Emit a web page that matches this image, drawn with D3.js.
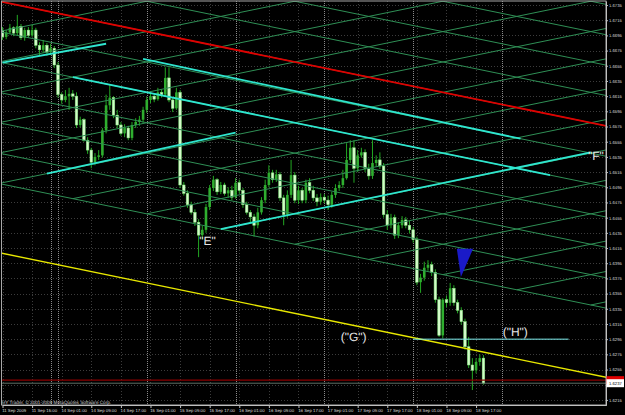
<!DOCTYPE html>
<html>
<head>
<meta charset="utf-8">
<script src="https://cdn.jsdelivr.net/npm/d3@7/dist/d3.min.js"></script>
<style>
  html, body { margin: 0; padding: 0; background: #000; overflow: hidden; }
  svg { display: block; font-family: "Liberation Sans", Arial, sans-serif; text-rendering: geometricPrecision; }
</style>
</head>
<body>
<script>
// GBPUSD-like H1 chart, bars indexed from the first one on screen
const timeLabels = [
  "11 Sep 2009", "11 Sep 15:00", "14 Sep 01:00", "14 Sep 09:00", "14 Sep 17:00",
  "15 Sep 01:00", "15 Sep 09:00", "15 Sep 17:00", "16 Sep 01:00", "16 Sep 09:00",
  "16 Sep 17:00", "17 Sep 01:00", "17 Sep 09:00", "17 Sep 17:00", "18 Sep 01:00",
  "18 Sep 09:00", "18 Sep 17:00"
];
const barsPerLabel = 8;
const separatorBars = [13, 15, 39, 63, 87, 111, 135];

const priceTicks = [
  1.6215, 1.6235, 1.6255, 1.6275, 1.6295, 1.6315, 1.6335, 1.6355, 1.6375,
  1.6395, 1.6415, 1.6435, 1.6455, 1.6475, 1.6495, 1.6515, 1.6535, 1.6555,
  1.6575, 1.6595, 1.6615, 1.6635, 1.6655, 1.6675, 1.6695, 1.6715, 1.6735
];

const openP = [
  1.6702, 1.6693, 1.6699, 1.6705, 1.6698, 1.6707, 1.6692, 1.6702, 1.6695, 1.6702,
  1.6682, 1.6676, 1.6682, 1.6673, 1.6678, 1.6656, 1.6617, 1.6610, 1.6615, 1.6618,
  1.6615, 1.6577, 1.6584, 1.6557, 1.6544, 1.6528, 1.6535, 1.6537, 1.6570, 1.6603,
  1.6613, 1.6590, 1.6577, 1.6566, 1.6573, 1.6560, 1.6577, 1.6581, 1.6584, 1.6597,
  1.6610, 1.6615, 1.6611, 1.6620, 1.6617, 1.6639, 1.6610, 1.6599, 1.6620, 1.6498,
  1.6487, 1.6472, 1.6462, 1.6449, 1.6432, 1.6439, 1.6469, 1.6494, 1.6505, 1.6489,
  1.6498, 1.6487, 1.6491, 1.6482, 1.6501, 1.6491, 1.6472, 1.6462, 1.6456, 1.6445,
  1.6462, 1.6478, 1.6498, 1.6514, 1.6505, 1.6512, 1.6481, 1.6459, 1.6485, 1.6511,
  1.6478, 1.6491, 1.6478, 1.6501, 1.6491, 1.6481, 1.6476, 1.6482, 1.6478, 1.6472,
  1.6485, 1.6494, 1.6498, 1.6507, 1.6531, 1.6547, 1.6520, 1.6537, 1.6541, 1.6520,
  1.6510, 1.6527, 1.6531, 1.6523, 1.6459, 1.6445, 1.6455, 1.6432, 1.6445, 1.6452,
  1.6445, 1.6439, 1.6426, 1.6370, 1.6376, 1.6389, 1.6393, 1.6383, 1.6347, 1.6300,
  1.6347, 1.6343, 1.6362, 1.6343, 1.6333, 1.6318, 1.6285, 1.6261, 1.6254, 1.6265,
  1.6270
];
const highP = [
  1.6706, 1.6702, 1.6710, 1.6707, 1.6722, 1.6710, 1.6705, 1.6706, 1.6709, 1.6705,
  1.6686, 1.6689, 1.6685, 1.6684, 1.6681, 1.6660, 1.6620, 1.6623, 1.6626, 1.6623,
  1.6620, 1.6588, 1.6586, 1.6561, 1.6547, 1.6540, 1.6544, 1.6573, 1.6617, 1.6630,
  1.6615, 1.6597, 1.6581, 1.6578, 1.6576, 1.6581, 1.6586, 1.6589, 1.6601, 1.6614,
  1.6620, 1.6619, 1.6626, 1.6624, 1.6653, 1.6653, 1.6614, 1.6626, 1.6623, 1.6502,
  1.6491, 1.6476, 1.6466, 1.6453, 1.6444, 1.6473, 1.6498, 1.6510, 1.6507, 1.6502,
  1.6501, 1.6495, 1.6497, 1.6507, 1.6505, 1.6494, 1.6476, 1.6465, 1.6460, 1.6468,
  1.6482, 1.6505, 1.6524, 1.6518, 1.6518, 1.6515, 1.6485, 1.6491, 1.6531, 1.6515,
  1.6497, 1.6494, 1.6505, 1.6507, 1.6497, 1.6486, 1.6487, 1.6486, 1.6484, 1.6489,
  1.6499, 1.6503, 1.6518, 1.6553, 1.6557, 1.6557, 1.6544, 1.6547, 1.6545, 1.6526,
  1.6557, 1.6537, 1.6541, 1.6527, 1.6465, 1.6460, 1.6459, 1.6449, 1.6457, 1.6456,
  1.6451, 1.6443, 1.6430, 1.6381, 1.6397, 1.6399, 1.6397, 1.6387, 1.6351, 1.6349,
  1.6352, 1.6369, 1.6366, 1.6347, 1.6337, 1.6322, 1.6298, 1.6270, 1.6270, 1.6275,
  1.6274
];
const lowP = [
  1.6689, 1.6690, 1.6697, 1.6694, 1.6695, 1.6689, 1.6688, 1.6692, 1.6693, 1.6678,
  1.6669, 1.6672, 1.6668, 1.6669, 1.6652, 1.6613, 1.6605, 1.6607, 1.6597, 1.6610,
  1.6573, 1.6574, 1.6555, 1.6539, 1.6520, 1.6524, 1.6531, 1.6534, 1.6566, 1.6597,
  1.6586, 1.6573, 1.6563, 1.6561, 1.6557, 1.6557, 1.6573, 1.6576, 1.6580, 1.6593,
  1.6606, 1.6607, 1.6609, 1.6613, 1.6614, 1.6607, 1.6594, 1.6597, 1.6494, 1.6484,
  1.6468, 1.6459, 1.6444, 1.6403, 1.6426, 1.6435, 1.6465, 1.6490, 1.6485, 1.6486,
  1.6484, 1.6481, 1.6478, 1.6480, 1.6487, 1.6468, 1.6459, 1.6449, 1.6430, 1.6441,
  1.6459, 1.6474, 1.6495, 1.6501, 1.6502, 1.6477, 1.6445, 1.6455, 1.6481, 1.6474,
  1.6473, 1.6474, 1.6474, 1.6487, 1.6477, 1.6470, 1.6472, 1.6474, 1.6465, 1.6468,
  1.6481, 1.6490, 1.6494, 1.6505, 1.6527, 1.6501, 1.6515, 1.6534, 1.6515, 1.6505,
  1.6506, 1.6522, 1.6519, 1.6455, 1.6439, 1.6441, 1.6427, 1.6428, 1.6441, 1.6441,
  1.6434, 1.6422, 1.6366, 1.6356, 1.6372, 1.6385, 1.6378, 1.6343, 1.6298, 1.6296,
  1.6337, 1.6339, 1.6339, 1.6329, 1.6314, 1.6281, 1.6257, 1.6228, 1.6250, 1.6260,
  1.6235
];
const closeP = [
  1.6693, 1.6699, 1.6705, 1.6698, 1.6707, 1.6692, 1.6702, 1.6695, 1.6702, 1.6682,
  1.6676, 1.6682, 1.6673, 1.6678, 1.6656, 1.6617, 1.6610, 1.6615, 1.6618, 1.6615,
  1.6577, 1.6584, 1.6557, 1.6544, 1.6528, 1.6535, 1.6537, 1.6570, 1.6603, 1.6613,
  1.6590, 1.6577, 1.6566, 1.6573, 1.6560, 1.6577, 1.6581, 1.6584, 1.6597, 1.6610,
  1.6615, 1.6611, 1.6620, 1.6617, 1.6639, 1.6610, 1.6599, 1.6620, 1.6498, 1.6487,
  1.6472, 1.6462, 1.6449, 1.6432, 1.6439, 1.6469, 1.6494, 1.6505, 1.6489, 1.6498,
  1.6487, 1.6491, 1.6482, 1.6501, 1.6491, 1.6472, 1.6462, 1.6456, 1.6445, 1.6462,
  1.6478, 1.6498, 1.6514, 1.6505, 1.6512, 1.6481, 1.6459, 1.6485, 1.6511, 1.6478,
  1.6491, 1.6478, 1.6501, 1.6491, 1.6481, 1.6476, 1.6482, 1.6478, 1.6472, 1.6485,
  1.6494, 1.6498, 1.6507, 1.6531, 1.6547, 1.6520, 1.6537, 1.6541, 1.6520, 1.6510,
  1.6527, 1.6531, 1.6523, 1.6459, 1.6445, 1.6455, 1.6432, 1.6445, 1.6452, 1.6445,
  1.6439, 1.6426, 1.6370, 1.6376, 1.6389, 1.6393, 1.6383, 1.6347, 1.6300, 1.6347,
  1.6343, 1.6362, 1.6343, 1.6333, 1.6318, 1.6285, 1.6261, 1.6254, 1.6265, 1.6270,
  1.6237
];

// gann grid: 1 pip per bar, 40 pips between rows
const gannDescAt0 = 1.6739;
const gannAscAt0 = 1.6661;
const gannStep = 0.004;
const gannPerBar = 0.0001;
const gannDescRows = d3.range(-4, 7);
const gannAscRows = d3.range(-1, 13);

// hand drawn objects, [bar, price]
const redLine = [[-1, 1.6740], [165, 1.6574]];
const yellowLine = [[-1, 1.6409], [165, 1.6243]];
const cyanLines = [
  [[0, 1.6659], [28, 1.6684]],
  [[38, 1.6664], [140, 1.6559]],
  [[19, 1.6640], [148, 1.6511]],
  [[12, 1.6513], [63, 1.6567]],
  [[59, 1.6440], [159, 1.6541]]
];
const hLine = [[111, 1.6295], [153, 1.6295]];
const askPrice = 1.6241;
const bidPrice = 1.6237;
const blueTriangle = [[122.8, 1.6414], [127.2, 1.6414], [123.9, 1.6377]];
const notes = [
  ['"E"', 55.4, 1.6425],
  ['"F"', 160.4, 1.6537],
  ['("G")', 94.9, 1.6298],
  ['("H")', 138.6, 1.6305]
];
const copyright = "HY Trader, \u00a9 2001-2009 MetaQuotes Software Corp.";

const chartSize = { width: 625, height: 415 };
const plot = { left: 2, right: 606, top: 1, bottom: 405 };

const x = d3.scaleLinear().domain([0, 163.2]).range([2.5, 606.3]);
const y = d3.scaleLinear().domain([1.62083, 1.67403]).range([405, 1]);
const line = d3.line().x(d => x(d[0])).y(d => y(d[1]));
const priceFormat = d3.format(".4f");

const descLine = k => {
  const p0 = gannDescAt0 - gannStep * k;
  return [[-3, p0 + 3 * gannPerBar], [166, p0 - 166 * gannPerBar]];
};
const ascLine = m => {
  const p0 = gannAscAt0 - gannStep * m;
  const lowest = gannDescAt0 - gannStep * d3.max(gannDescRows);
  const start = Math.max(-3, (lowest - p0) / (2 * gannPerBar));
  return [[start, p0 + start * gannPerBar], [166, p0 + 166 * gannPerBar]];
};

const svg = d3
  .select("body")
  .append("svg")
  .attr("width", chartSize.width)
  .attr("height", chartSize.height);

svg.append("rect")
  .attr("width", chartSize.width)
  .attr("height", chartSize.height)
  .attr("fill", "#000");

svg.append("clipPath")
  .attr("id", "plot-clip")
  .append("rect")
  .attr("x", plot.left)
  .attr("y", plot.top)
  .attr("width", plot.right - plot.left)
  .attr("height", plot.bottom - plot.top);

const g = svg.append("g").attr("clip-path", "url(#plot-clip)");

// dotted grid
g.selectAll(".hgrid")
  .data(priceTicks)
  .enter()
  .append("line")
  .attr("x1", plot.left)
  .attr("x2", plot.right)
  .attr("y1", d => Math.round(y(d)) + 0.5)
  .attr("y2", d => Math.round(y(d)) + 0.5)
  .attr("stroke", "#3c3c3c")
  .attr("stroke-dasharray", "1,2");

const labelBars = timeLabels.map((t, k) => k * barsPerLabel);
g.selectAll(".vgrid")
  .data(labelBars)
  .enter()
  .append("line")
  .attr("x1", d => Math.round(x(d)) + 0.5)
  .attr("x2", d => Math.round(x(d)) + 0.5)
  .attr("y1", plot.top)
  .attr("y2", plot.bottom)
  .attr("stroke", "#3c3c3c")
  .attr("stroke-dasharray", "1,2");

g.selectAll(".sep")
  .data(separatorBars)
  .enter()
  .append("line")
  .attr("x1", d => Math.round(x(d)) + 0.5)
  .attr("x2", d => Math.round(x(d)) + 0.5)
  .attr("y1", plot.top)
  .attr("y2", plot.bottom)
  .attr("stroke", "#8a8a8a")
  .attr("stroke-dasharray", "1,1");

// candles
const bars = closeP.map((c, i) => ({ i, o: openP[i], h: highP[i], l: lowP[i], c }));

g.selectAll(".wick")
  .data(bars)
  .enter()
  .append("line")
  .attr("x1", d => x(d.i))
  .attr("x2", d => x(d.i))
  .attr("y1", d => y(d.h))
  .attr("y2", d => y(d.l))
  .attr("stroke", "#22a822")
  .attr("stroke-width", 1);

g.selectAll(".body")
  .data(bars)
  .enter()
  .append("rect")
  .attr("x", d => x(d.i) - 1.3)
  .attr("width", 2.6)
  .attr("y", d => y(Math.max(d.o, d.c)))
  .attr("height", d => Math.max(1, Math.abs(y(d.o) - y(d.c))))
  .attr("fill", d => (d.c < d.o ? "#d2fbc8" : "#2fae2f"))
  .attr("stroke", d => (d.c < d.o ? "#84e67e" : "none"))
  .attr("stroke-width", 0.5);

// gann grid
g.selectAll(".gdesc")
  .data(gannDescRows.map(descLine))
  .enter()
  .append("path")
  .attr("d", line)
  .attr("fill", "none")
  .attr("stroke", "#2f8f55")
  .attr("stroke-width", 1);

g.selectAll(".gasc")
  .data(gannAscRows.map(ascLine))
  .enter()
  .append("path")
  .attr("d", line)
  .attr("fill", "none")
  .attr("stroke", "#2f8f55")
  .attr("stroke-width", 1);

// trend lines
g.append("path")
  .attr("d", line(redLine))
  .attr("fill", "none")
  .attr("stroke", "#e00000")
  .attr("stroke-width", 1.8);

g.selectAll(".cyan")
  .data(cyanLines)
  .enter()
  .append("path")
  .attr("d", line)
  .attr("fill", "none")
  .attr("stroke", "#2fe6cf")
  .attr("stroke-width", 1.8);

g.append("path")
  .attr("d", line(yellowLine))
  .attr("fill", "none")
  .attr("stroke", "#e8e800")
  .attr("stroke-width", 1.4);

g.append("path")
  .attr("d", line(hLine))
  .attr("fill", "none")
  .attr("stroke", "#7eeeee")
  .attr("stroke-width", 1);

g.append("line")
  .attr("x1", plot.left)
  .attr("x2", plot.right)
  .attr("y1", y(askPrice))
  .attr("y2", y(askPrice))
  .attr("stroke", "#8a0000")
  .attr("stroke-width", 1.2);

g.append("line")
  .attr("x1", plot.left)
  .attr("x2", plot.right)
  .attr("y1", y(bidPrice))
  .attr("y2", y(bidPrice))
  .attr("stroke", "#5e6e64")
  .attr("stroke-width", 1);

g.append("path")
  .attr("d", line(blueTriangle) + "Z")
  .attr("fill", "#1a1ac8");

g.selectAll(".note")
  .data(notes)
  .enter()
  .append("text")
  .attr("x", d => x(d[1]))
  .attr("y", d => y(d[2]))
  .attr("dy", "0.36em")
  .attr("text-anchor", "middle")
  .attr("font-size", 12)
  .attr("fill", "#e6e6e6")
  .text(d => d[0]);

// frame
svg.append("rect")
  .attr("x", 1.5)
  .attr("y", 1)
  .attr("width", plot.right - 1.5)
  .attr("height", plot.bottom - 1)
  .attr("fill", "none")
  .attr("stroke", "#a8a8a8");

// price axis, the label under the bid box stays hidden like in the terminal
const yAxis = d3
  .axisRight(y)
  .tickValues(priceTicks)
  .tickSize(2)
  .tickSizeOuter(0)
  .tickFormat(d => (Math.abs(y(d) - y(bidPrice)) < 5 ? "" : priceFormat(d)));

const ya = svg
  .append("g")
  .attr("transform", `translate(${plot.right},0)`)
  .call(yAxis);
ya.select(".domain").attr("stroke", "#c0c0c0");
ya.selectAll(".tick line").attr("stroke", "#c0c0c0");
ya.selectAll(".tick text")
  .attr("x", 3)
  .attr("fill", "#dcdcdc")
  .attr("font-size", 4.2)
  .attr("font-family", "Liberation Sans, Arial, sans-serif");

// time axis
const xAxis = d3
  .axisBottom(x)
  .tickValues(labelBars)
  .tickSize(3)
  .tickSizeOuter(0)
  .tickFormat((d, k) => timeLabels[k]);

const xa = svg
  .append("g")
  .attr("transform", `translate(0,${plot.bottom})`)
  .call(xAxis);
xa.select(".domain").attr("stroke", "#c0c0c0");
xa.selectAll(".tick line").attr("stroke", "#c0c0c0");
xa.selectAll(".tick text")
  .attr("text-anchor", "start")
  .attr("x", -0.8)
  .attr("y", 6.6)
  .attr("dy", 0)
  .attr("fill", "#dcdcdc")
  .attr("font-size", 4.3)
  .attr("font-family", "Liberation Sans, Arial, sans-serif");

// current price boxes
const boxW = chartSize.width - plot.right - 1.5;
svg.append("rect")
  .attr("x", plot.right + 0.5)
  .attr("y", y(askPrice) - 4)
  .attr("width", boxW)
  .attr("height", 8)
  .attr("fill", "#e00000");
svg.append("rect")
  .attr("x", plot.right + 0.5)
  .attr("y", y(bidPrice) - 4)
  .attr("width", boxW)
  .attr("height", 8)
  .attr("fill", "#ffffff");
svg.append("text")
  .attr("x", plot.right + 3)
  .attr("y", y(bidPrice))
  .attr("dy", "0.35em")
  .attr("font-size", 4.2)
  .attr("fill", "#000")
  .text(priceFormat(bidPrice));

svg.append("text")
  .attr("x", 2)
  .attr("y", 403.5)
  .attr("font-size", 4.65)
  .attr("fill", "#cfcfcf")
  .text(copyright);
</script>
</body>
</html>
